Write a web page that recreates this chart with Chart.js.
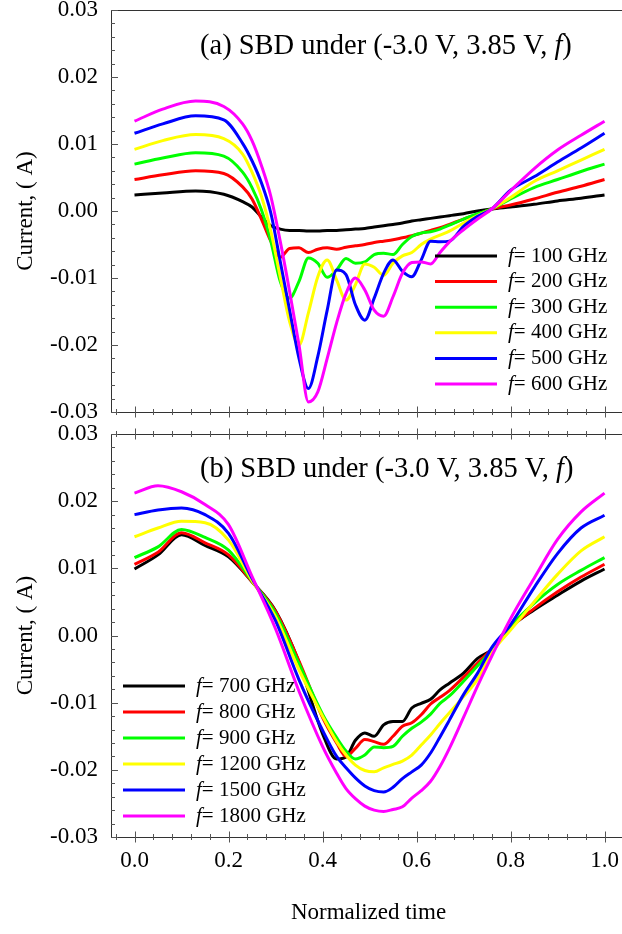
<!DOCTYPE html>
<html>
<head>
<meta charset="utf-8">
<script src="https://cdn.jsdelivr.net/npm/chart.js@4"></script>
<style>
  html, body { margin: 0; padding: 0; background: #fff; overflow: hidden; width: 622px; height: 934px; }
  canvas { position: absolute; left: 0; }
  #top { top: 0; }
  #bot { top: 420px; }
</style>
</head>
<body>
<canvas id="top" width="626" height="420"></canvas>
<canvas id="bot" width="626" height="514"></canvas>
<script>
// normalized time samples
const topX = [0, 0.06, 0.13, 0.19, 0.23, 0.25, 0.27, 0.29, 0.31, 0.33, 0.35, 0.37, 0.39, 0.41, 0.43, 0.45, 0.47, 0.49, 0.51, 0.53, 0.55, 0.57, 0.59, 0.61, 0.63, 0.65, 0.67, 0.7, 0.73, 0.76, 0.8, 0.85, 0.9, 0.95, 1.0];
const bottomX = [0, 0.05, 0.1, 0.15, 0.2, 0.25, 0.3, 0.35, 0.4, 0.43, 0.45, 0.47, 0.49, 0.51, 0.53, 0.55, 0.57, 0.59, 0.61, 0.63, 0.65, 0.67, 0.7, 0.73, 0.76, 0.8, 0.85, 0.9, 0.95, 1.0];

// (a) currents, A
const f100 = [0.0024, 0.0027, 0.003, 0.0025, 0.0014, 0.0006, -0.0009, -0.0022, -0.0027, -0.0029, -0.0029, -0.003, -0.003, -0.0029, -0.0029, -0.0028, -0.0027, -0.0026, -0.0024, -0.0022, -0.002, -0.0018, -0.0015, -0.0013, -0.0011, -0.0009, -0.0007, -0.0004, 0.0, 0.0003, 0.0006, 0.001, 0.0015, 0.0019, 0.0024];
const f200 = [0.0047, 0.0054, 0.006, 0.0056, 0.0036, 0.0018, -0.0012, -0.0045, -0.0069, -0.0056, -0.0055, -0.0062, -0.0057, -0.0055, -0.0057, -0.0054, -0.0052, -0.005, -0.0047, -0.0045, -0.0043, -0.004, -0.0037, -0.0033, -0.0029, -0.0025, -0.002, -0.0012, -0.0005, 0.0003, 0.0009, 0.0018, 0.0028, 0.0037, 0.0047];
const f300 = [0.007, 0.0079, 0.0087, 0.0082, 0.0058, 0.0035, 0.0002, -0.0045, -0.0105, -0.013, -0.0105, -0.007, -0.0078, -0.0099, -0.0088, -0.0071, -0.0078, -0.0076, -0.0065, -0.0063, -0.0065, -0.005, -0.0038, -0.0033, -0.0031, -0.0027, -0.0021, -0.0012, -0.0004, 0.0003, 0.0018, 0.0035, 0.0047, 0.0059, 0.007];
const f400 = [0.0092, 0.0105, 0.0114, 0.0108, 0.0085, 0.0058, 0.0022, -0.003, -0.0098, -0.0165, -0.02, -0.0152, -0.0098, -0.0073, -0.0103, -0.0133, -0.011, -0.0079, -0.0084, -0.0096, -0.0078, -0.0067, -0.0062, -0.005, -0.0042, -0.0036, -0.003, -0.0018, -0.0007, 0.0003, 0.002, 0.0044, 0.006, 0.0076, 0.0092];
const f500 = [0.0116, 0.013, 0.0142, 0.0136, 0.0101, 0.0075, 0.0042, -0.0003, -0.0075, -0.0148, -0.022, -0.0265, -0.0217, -0.0148, -0.0088, -0.0095, -0.014, -0.0163, -0.013, -0.0093, -0.0073, -0.009, -0.0098, -0.0073, -0.0045, -0.0046, -0.0045, -0.0023, -0.0008, 0.0003, 0.0031, 0.0051, 0.0073, 0.0094, 0.0116];
const f600 = [0.0134, 0.0152, 0.0164, 0.0156, 0.013, 0.0105, 0.0068, 0.0022, -0.0045, -0.012, -0.02, -0.0285, -0.027, -0.022, -0.0167, -0.0123, -0.01, -0.0118, -0.0148, -0.0157, -0.0128, -0.0093, -0.0077, -0.0076, -0.0079, -0.0062, -0.0046, -0.0028, -0.0012, 0.0003, 0.003, 0.0063, 0.0091, 0.0113, 0.0134];

// (b) currents, A
const f700 = [0.0099, 0.012, 0.015, 0.0134, 0.0117, 0.008, 0.0037, -0.004, -0.0146, -0.0184, -0.0181, -0.0156, -0.0145, -0.015, -0.0133, -0.0128, -0.0128, -0.0108, -0.0101, -0.0095, -0.0081, -0.0071, -0.0056, -0.0034, -0.0021, 0.0012, 0.0038, 0.006, 0.0081, 0.0099];
const f800 = [0.0106, 0.0124, 0.0153, 0.0138, 0.012, 0.008, 0.0036, -0.0038, -0.0122, -0.016, -0.018, -0.0168, -0.0155, -0.0158, -0.0162, -0.015, -0.0135, -0.013, -0.0118, -0.0102, -0.0092, -0.0082, -0.0062, -0.0041, -0.002, 0.0012, 0.004, 0.0065, 0.0087, 0.0106];
const f900 = [0.0116, 0.0132, 0.0158, 0.0146, 0.0127, 0.0081, 0.0033, -0.0042, -0.0117, -0.0152, -0.0172, -0.0184, -0.0178, -0.0166, -0.0167, -0.0165, -0.015, -0.0138, -0.0129, -0.0117, -0.0101, -0.009, -0.0068, -0.0045, -0.0022, 0.0014, 0.0048, 0.0076, 0.0097, 0.0116];
const f1200 = [0.0147, 0.016, 0.017, 0.0168, 0.0142, 0.0082, 0.0028, -0.0051, -0.012, -0.0158, -0.0178, -0.0193, -0.0201, -0.0203, -0.0197, -0.0192, -0.0187, -0.0178, -0.0163, -0.0148, -0.0131, -0.0115, -0.0091, -0.0065, -0.0026, 0.0008, 0.005, 0.0091, 0.0126, 0.0147];
const f1500 = [0.018, 0.0187, 0.019, 0.018, 0.0152, 0.0085, 0.0022, -0.0066, -0.0141, -0.018, -0.0197, -0.0212, -0.0224, -0.0231, -0.0233, -0.0226, -0.0213, -0.0203, -0.0193, -0.0175, -0.0151, -0.0126, -0.0088, -0.0056, -0.0018, 0.0016, 0.0071, 0.0122, 0.016, 0.0179];
const f1800 = [0.0212, 0.0223, 0.0214, 0.0195, 0.0165, 0.0088, 0.001, -0.0083, -0.0165, -0.0205, -0.0228, -0.0243, -0.0254, -0.026, -0.0262, -0.0259, -0.0255, -0.0242, -0.0231, -0.0217, -0.0195, -0.0168, -0.0122, -0.0075, -0.0031, 0.0025, 0.0085, 0.0143, 0.0184, 0.0212];

const topFreqs = ["100", "200", "300", "400", "500", "600"];
const bottomFreqs = ["700", "800", "900", "1200", "1500", "1800"];
const xTicks = [0, 0.2, 0.4, 0.6, 0.8, 1.0];
const yTicks = [-0.03, -0.02, -0.01, 0, 0.01, 0.02, 0.03];
const colors = ["#000000", "#ff0000", "#00ff00", "#ffff00", "#0000ff", "#ff00ff"];

const serif = "'Liberation Serif', 'DejaVu Serif', serif";
Chart.defaults.font.family = serif;
Chart.defaults.color = "#000";

function makeSets(xs, series) {
  return series.map((ys, i) => ({
    data: xs.map((x, j) => ({ x, y: ys[j] })),
    borderColor: colors[i],
    borderWidth: 3,
    pointRadius: 0,
    cubicInterpolationMode: "monotone",
    fill: false,
    order: 6 - i
  }));
}

// frame, crossing/inward ticks, panel title and legend
const framePlugin = {
  id: "frame",
  afterDraw(chart, args, o) {
    const { ctx, chartArea: a, scales: { x, y } } = chart;
    ctx.save();
    ctx.strokeStyle = "#333";
    ctx.lineWidth = 1;
    ctx.strokeRect(Math.round(a.left) + 0.5, Math.round(a.top) + 0.5, Math.round(a.right - a.left), Math.round(a.bottom - a.top));
    ctx.strokeStyle = "#555";
    ctx.beginPath();
    for (let k = -1; k <= 26; k++) {
      const px = Math.round(x.getPixelForValue(k * 0.04)) + 0.5;
      const h = k % 5 === 0 ? 5.5 : 3;
      o.xEdges.forEach(edge => {
        const yy = edge === "top" ? a.top : a.bottom;
        ctx.moveTo(px, yy - h);
        ctx.lineTo(px, yy + h);
      });
    }
    for (let k = -15; k <= 15; k++) {
      const py = Math.round(y.getPixelForValue(k * 0.002)) + 0.5;
      const w = k % 5 === 0 ? 7 : 4;
      ctx.moveTo(a.left, py);
      ctx.lineTo(a.left + w, py);
    }
    ctx.stroke();

    ctx.fillStyle = "#000";
    ctx.textBaseline = "middle";
    // panel title
    let tx = o.title.x;
    const parts = [[o.title.text, "normal"], ["f", "italic"], [")", "normal"]];
    parts.forEach(([s, st]) => {
      ctx.font = `${st} 28.5px ${serif}`;
      ctx.fillText(s, tx, o.title.y);
      tx += ctx.measureText(s).width;
    });
    // legend
    const L = o.legend;
    L.labels.forEach((lab, i) => {
      const ly = L.y + i * L.dy;
      ctx.strokeStyle = colors[i];
      ctx.lineWidth = 3;
      ctx.beginPath();
      ctx.moveTo(L.x, ly);
      ctx.lineTo(L.x + 62, ly);
      ctx.stroke();
      ctx.font = `italic 21px ${serif}`;
      ctx.fillText("f", L.x + 73, ly);
      const fw = ctx.measureText("f").width;
      ctx.font = `normal 21px ${serif}`;
      ctx.fillText("= " + lab + " GHz", L.x + 73 + fw, ly);
    });
    ctx.restore();
  }
};

const tickFont = { size: 23, family: serif };

function yScale() {
  return {
    min: -0.03, max: 0.03,
    afterBuildTicks: s => { s.ticks = yTicks.map(v => ({ value: v })); },
    afterFit: s => { s.width = 111; s.paddingTop = 0; s.paddingBottom = 0; },
    grid: { display: false, drawTicks: false },
    border: { display: false },
    ticks: { padding: 13, font: tickFont, color: "#000", callback: v => (Math.abs(v) < 1e-9 ? "0.00" : v.toFixed(2)) },
    title: { display: true, text: "Current, ( A)", font: tickFont, color: "#000", padding: { top: 12, bottom: 0 } }
  };
}

new Chart(document.getElementById("top"), {
  type: "line",
  data: { datasets: makeSets(topX, [f100, f200, f300, f400, f500, f600]) },
  options: {
    responsive: false, animation: false, devicePixelRatio: 1,
    layout: { padding: { top: 10, bottom: 8, left: 0, right: 0 } },
    plugins: {
      legend: { display: false }, tooltip: { enabled: false },
      frame: {
        xEdges: ["bottom"],
        title: { text: "(a) SBD under (-3.0 V, 3.85 V, ", x: 200, y: 47 },
        legend: { labels: topFreqs, x: 435, y: 256, dy: 25.6 }
      }
    },
    scales: {
      x: { type: "linear", display: false, min: -0.05, max: 1.0457 },
      y: yScale()
    }
  },
  plugins: [framePlugin]
});

new Chart(document.getElementById("bot"), {
  type: "line",
  data: { datasets: makeSets(bottomX, [f700, f800, f900, f1200, f1500, f1800]) },
  options: {
    responsive: false, animation: false, devicePixelRatio: 1,
    layout: { padding: { top: 14, bottom: 0, left: 0, right: 0 } },
    plugins: {
      legend: { display: false }, tooltip: { enabled: false },
      frame: {
        xEdges: ["top", "bottom"],
        title: { text: "(b) SBD under (-3.0 V, 3.85 V, ", x: 200, y: 50 },
        legend: { labels: bottomFreqs, x: 123, y: 266, dy: 26 }
      }
    },
    scales: {
      x: {
        type: "linear", min: -0.05, max: 1.0457,
        afterBuildTicks: s => { s.ticks = xTicks.map(v => ({ value: v })); },
        afterFit: s => { s.height = 97; s.paddingLeft = 0; s.paddingRight = 0; },
        grid: { display: false, drawTicks: false },
        border: { display: false },
        ticks: { padding: 10, font: tickFont, color: "#000", maxRotation: 0, autoSkip: false, callback: v => v.toFixed(1) },
        title: { display: true, text: "Normalized time", font: tickFont, color: "#000", padding: { top: 0, bottom: 7 } }
      },
      y: yScale()
    }
  },
  plugins: [framePlugin]
});
</script>
</body>
</html>
